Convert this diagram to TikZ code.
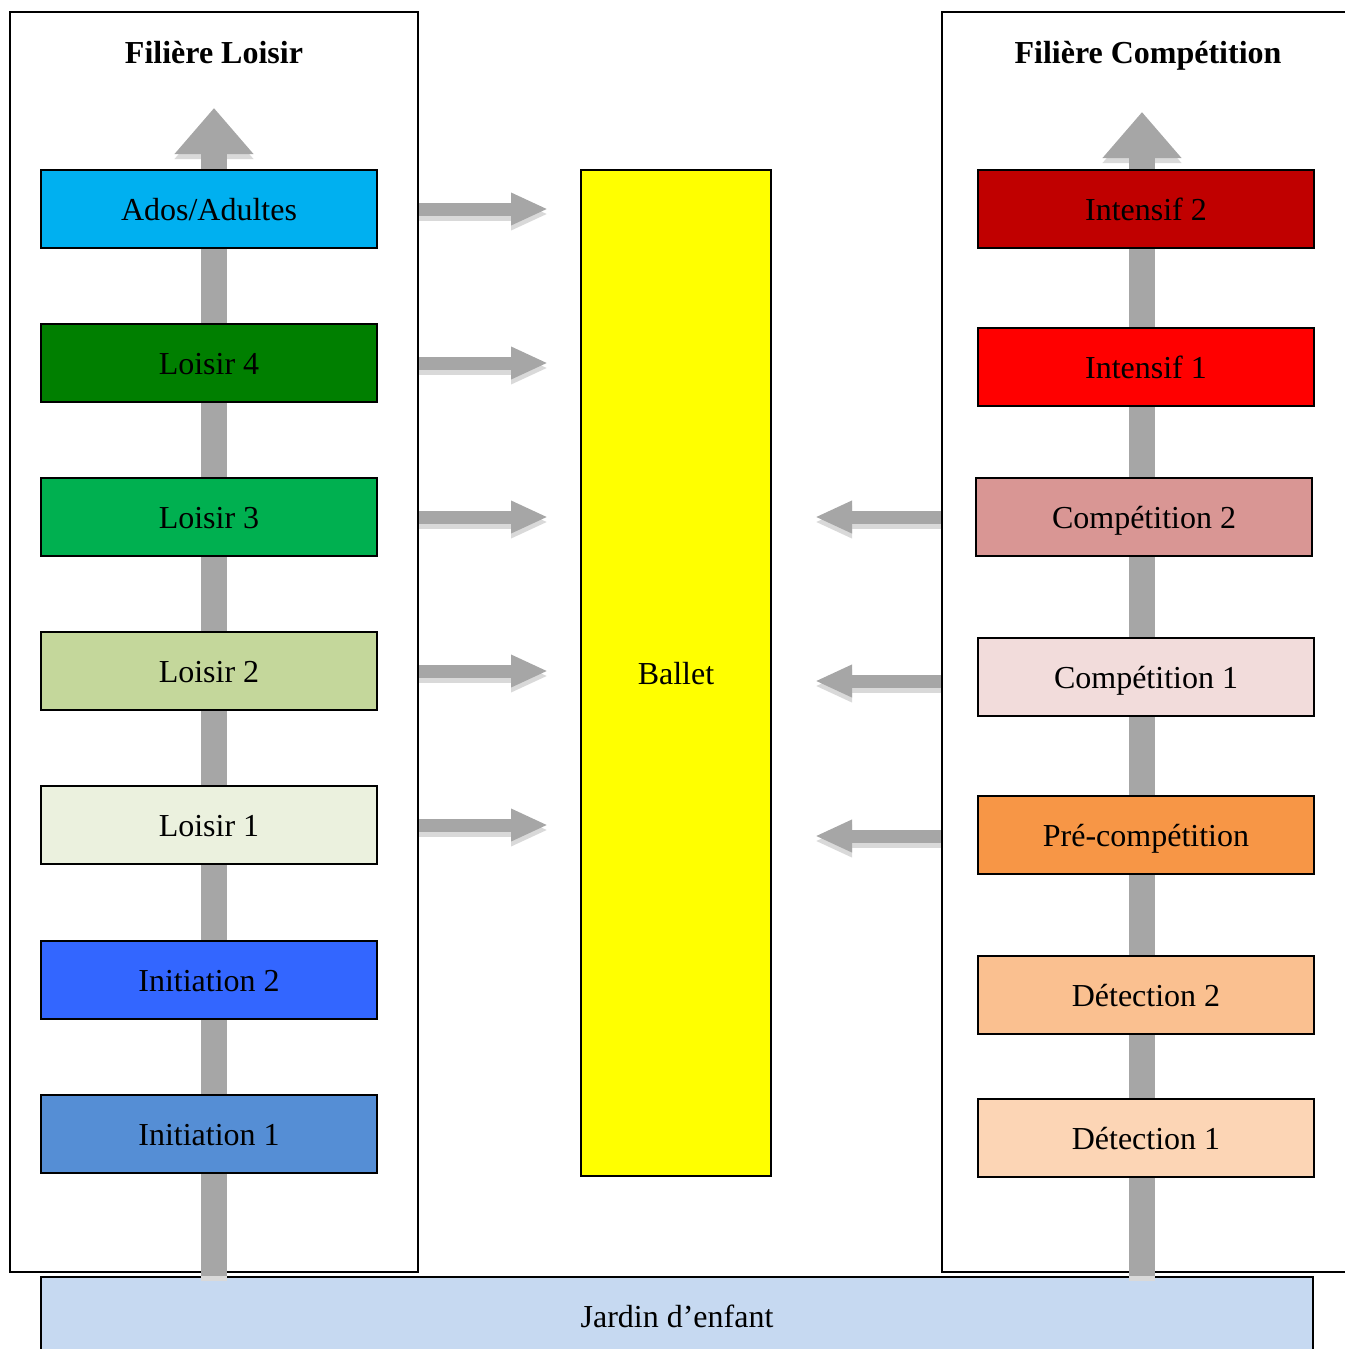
\documentclass[tikz,border=0pt]{standalone}
\usepackage{fontspec}
\setmainfont{Liberation Serif}
\usetikzlibrary{arrows.meta,calc}

\definecolor{arrowgray}{HTML}{A6A6A6}
\definecolor{shadowgray}{HTML}{D9D9D9}
\definecolor{balletyellow}{HTML}{FFFF00}

\tikzset{
  levelbox/.style={draw=black, line width=1pt, minimum width=168pt, minimum height=39pt,
    inner sep=0pt, text height=14pt, text depth=2.5pt, font=\fontsize{16}{18}\selectfont},
  panelbox/.style={draw=black, line width=1pt, inner sep=0pt},
  bigarrow/.style={line width=13pt, draw=arrowgray, -{Triangle[width=38pt,length=23pt]}},
  bigshadow/.style={line width=13pt, draw=shadowgray, -{Triangle[width=38pt,length=23pt]},
    transform canvas={yshift=-2.5pt}},
  sidearrow/.style={line width=6.5pt, draw=arrowgray, -{Triangle[width=15pt,length=18.5pt]}},
  sideshadow/.style={line width=6.5pt, draw=shadowgray, -{Triangle[width=15pt,length=18.5pt]},
    transform canvas={yshift=-2.5pt}},
  title/.style={font=\bfseries\fontsize{16}{18}\selectfont, text height=14pt, text depth=2.5pt}
}

\begin{document}
\begin{tikzpicture}[x=0.5pt,y=-0.5pt]
\useasboundingbox (0,0) rectangle (1344,1349);

% panels and base
\node[panelbox, minimum width=204pt, minimum height=630pt] (loisirpanel) at (214,642) {};
\node[panelbox, minimum width=206pt, minimum height=630pt] (comppanel) at (1148,642) {};
\node[title] (loisirtitle) at (214,52) {Filière Loisir};
\node[title] (comptitle) at (1148,52) {Filière Compétition};
\node[levelbox, fill={rgb,255:red,198;green,217;blue,241}, minimum width=636pt, minimum height=60pt,
  anchor=north] (jardin) at (677,1276) {};
\node[font=\fontsize{16}{18}\selectfont, text height=14pt, text depth=2.5pt] at (677,1316) {Jardin d’enfant};

% vertical arrows (behind the boxes)
\coordinate (ltip) at (214,108);
\coordinate (rtip) at (1142,112);
\draw[bigshadow] (ltip |- jardin.north) -- (ltip);
\draw[bigarrow] (ltip |- jardin.north) -- (ltip);
\draw[bigshadow] (rtip |- jardin.north) -- (rtip);
\draw[bigarrow] (rtip |- jardin.north) -- (rtip);

% left column
\foreach \name/\col/\y/\txt in {
  l7/00B0F0/209/Ados\slash Adultes,
  l6/007F00/363/Loisir 4,
  l5/00B050/517/Loisir 3,
  l4/C4D79B/671/Loisir 2,
  l3/EBF1DE/825/Loisir 1,
  l2/3366FF/979.5/Initiation 2,
  l1/558ED5/1134/Initiation 1}
{
  \definecolor{boxcolor}{HTML}{\col}
  \node[levelbox, fill=boxcolor] (\name) at (209,\y) {\txt};
}

% right column
\foreach \name/\col/\x/\y/\txt in {
  c7/C00000/1146/209/Intensif 2,
  c6/FF0000/1146/367/Intensif 1,
  c5/D99694/1144/517/Compétition 2,
  c4/F2DCDB/1146/677/Compétition 1,
  c3/F79646/1146/835/Pré-compétition,
  c2/FAC090/1146/995/Détection 2,
  c1/FCD5B5/1146/1138/Détection 1}
{
  \definecolor{boxcolor}{HTML}{\col}
  \node[levelbox, fill=boxcolor] (\name) at (\x,\y) {\txt};
}

% ballet
\node[levelbox, fill=balletyellow, minimum width=95pt, minimum height=503pt] (ballet) at (676,673) {Ballet};

% arrows towards ballet
\foreach \from in {l7,l6,l5,l4,l3}
{
  \draw[sideshadow] (loisirpanel.east |- \from) -- ($(ballet.west |- \from)+(-32,0)$);
  \draw[sidearrow] (loisirpanel.east |- \from) -- ($(ballet.west |- \from)+(-32,0)$);
}
\foreach \from/\dy in {c5/0,c4/4,c3/1}
{
  \draw[sideshadow] ($(comppanel.west |- \from)+(0,\dy)$) -- ($(ballet.east |- \from)+(43,\dy)$);
  \draw[sidearrow] ($(comppanel.west |- \from)+(0,\dy)$) -- ($(ballet.east |- \from)+(43,\dy)$);
}
\end{tikzpicture}
\end{document}
